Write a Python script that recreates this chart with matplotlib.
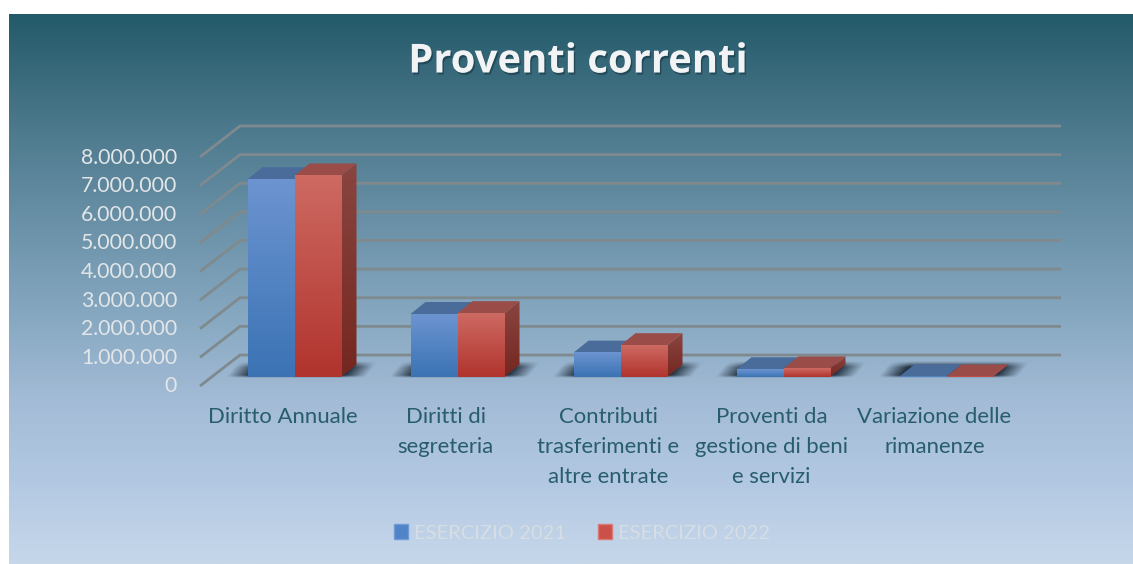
import numpy as np
import matplotlib
matplotlib.use("Agg")
import matplotlib.pyplot as plt
import matplotlib.patheffects as pe
from matplotlib.patches import Patch, Polygon
from matplotlib.transforms import ScaledTranslation

plt.rcParams["font.family"] = ["Lato", "DejaVu Sans"]

categories = ["Diritto Annuale", "Diritti di\nsegreteria", "Contributi\ntrasferimenti e\naltre entrate",
              "Proventi da\ngestione di beni\ne servizi", "Variazione delle\nrimanenze"]
esercizio_2021 = [6900000, 2190000, 840000, 260000, 10000]
esercizio_2022 = [7030000, 2220000, 1100000, 290000, 10000]
y_ticks = [0, 1000000, 2000000, 3000000, 4000000, 5000000, 6000000, 7000000, 8000000]

W, H = 1133, 564
PX_X = 1 / 163        # category units per pixel
PX_Y = 8000000 / 229  # value units per pixel
BAR_W = 47 * PX_X


def hex2rgb(c):
    return np.array(matplotlib.colors.to_rgb(c))


def vgrad(top, bottom, n=64):
    t = np.linspace(0, 1, n)[:, None]
    return hex2rgb(top) * (1 - t) + hex2rgb(bottom) * t


def face(ax, x0, x1, y0, y1, top, bottom, z):
    ax.imshow(vgrad(top, bottom)[:, None, :], extent=(x0, x1, y0, y1), aspect="auto",
              interpolation="bilinear", zorder=z, clip_on=False)


def side(ax, x1, y0, y1, dx, dy, top, bottom, z):
    # sheared side face, as an image clipped by its polygon
    im = ax.imshow(vgrad(top, bottom)[:, None, :], extent=(x1, x1 + dx, y0, y1 + dy), aspect="auto",
                   interpolation="bilinear", zorder=z)
    poly = Polygon([(x1, y0), (x1 + dx, y0 + dy), (x1 + dx, y1 + dy), (x1, y1)],
                   transform=ax.transData, fc="none", ec="none")
    ax.add_patch(poly)
    im.set_clip_path(poly)


def shadow(ax, center, floor, z):
    nx, ny = 180, 32
    x = np.linspace(-78, 92, nx)
    v = np.linspace(1, 0, ny)
    xx, vv = np.meshgrid(x, v)
    xs = xx - vv * 14
    a = np.clip((xs + 70) / 22, 0, 1) * np.clip((70 - xs) / 22, 0, 1)
    a = a * np.clip(vv / 0.15, 0, 1) * np.clip((1 - vv) / 0.35, 0, 1)
    rgba = np.zeros((ny, nx, 4))
    rgba[..., :3] = hex2rgb("#1a2836")
    rgba[..., 3] = a * 0.92
    ax.imshow(rgba, extent=(center - 78 * PX_X, center + 92 * PX_X, floor - 1 * PX_Y, floor + 16 * PX_Y),
              aspect="auto", interpolation="bilinear", zorder=z)


fig = plt.figure(figsize=(W / 100, H / 100), dpi=100, facecolor="white")

# panel background
bg = fig.add_axes([9 / W, 0, 1 - 9 / W, (H - 14) / H])
bg.axis("off")
rows = np.linspace(14, H, 400)
stops_y = [14, 135, 300, 400, 480, 564]
stops_c = np.array([hex2rgb(c) for c in ["#235a69", "#4f7b8f", "#81a4bc", "#a3bbd6", "#b2c8e2", "#c6d7ea"]])
grad = np.stack([np.interp(rows, stops_y, stops_c[:, i]) for i in range(3)], axis=1)
bg.imshow(grad[:, None, :], aspect="auto", interpolation="bilinear")

ax = fig.add_axes([200 / W, (H - 386) / H, 861 / W, 229 / H])
ax.patch.set_alpha(0)
for s in ax.spines.values():
    s.set_visible(False)

x_left = (200 - 294.5) * PX_X
x_right = (1061 - 294.5) * PX_X
wall_x, wall_y = 40 * PX_X, 31 * PX_Y
depth_x, depth_y = 15 * PX_X, 12 * PX_Y
floor = 9.3 * PX_Y

for v in y_ticks:
    ax.plot([x_left, x_left + wall_x, x_right], [v, v + wall_y, v + wall_y], color="#7f8a8e", lw=2.0,
            zorder=1, clip_on=False, solid_joinstyle="miter", solid_capstyle="butt")

for i, (a, b) in enumerate(zip(esercizio_2021, esercizio_2022)):
    shadow(ax, i, floor, 2)
    # blue bar, then red bar in front of its side
    xa0, xa1 = i - BAR_W, i
    top_a = floor + a
    ax.add_patch(Polygon([(xa0, top_a), (xa1, top_a), (xa1 + depth_x, top_a + depth_y), (xa0 + depth_x, top_a + depth_y)],
                         fc="#4a6c9b", ec="none", zorder=3, clip_on=False))
    face(ax, xa0, xa1, floor, top_a, "#6c94d0", "#3b73b4", 4)
    xb0, xb1 = i, i + BAR_W
    top_b = floor + b
    side(ax, xb1, floor, top_b, depth_x, depth_y, "#8a4540", "#752720", 5)
    ax.add_patch(Polygon([(xb0, top_b), (xb1, top_b), (xb1 + depth_x, top_b + depth_y), (xb0 + depth_x, top_b + depth_y)],
                         fc="#9a4c48", ec="none", zorder=5, clip_on=False))
    face(ax, xb0, xb1, floor, top_b, "#cd6a62", "#b1342e", 6)

ax.set_xlim(x_left, x_right)
ax.set_ylim(0, 8000000)

ax.set_yticks(y_ticks)
ax.set_yticklabels([f"{v:,}".replace(",", ".") for v in y_ticks], fontsize=15.3, color="#e2e6e8")
# category labels sit a little left of the bar groups
ax.set_xticks(np.arange(len(categories)) - 12 * PX_X)
ax.set_xticklabels(categories, fontsize=15.9, color="#285d6d", linespacing=1.62)
ax.tick_params(axis="y", length=0, pad=16.5)
ax.tick_params(axis="x", length=0, pad=15)
nudge = ScaledTranslation(0, 1.5 / 100, fig.dpi_scale_trans)
for lab in ax.get_yticklabels():
    lab.set_transform(lab.get_transform() + nudge)

title = fig.text((408 + 748) / 2 / W, 1 - 62 / H, "Proventi correnti", ha="center", va="center",
                 family=["Open Sans", "DejaVu Sans"], fontsize=28.8, fontweight="bold", color="#f2f3f4")
title.set_path_effects([pe.withSimplePatchShadow(offset=(1, -1.5), shadow_rgbFace="#12303c", alpha=0.55)])

handles = [Patch(fc="#4f84c8", ec="#6f9ad4", label="ESERCIZIO 2021"),
           Patch(fc="#cb504a", ec="#d87a75", label="ESERCIZIO 2022")]
fig.legend(handles=handles, loc="center", bbox_to_anchor=(582 / W, 1 - 533 / H), ncol=2, frameon=False,
           fontsize=14.5, labelcolor="#d6dde4", handlelength=0.7, handleheight=0.7, handletextpad=0.3,
           columnspacing=1.55)

fig.savefig("out.png", dpi=100)
